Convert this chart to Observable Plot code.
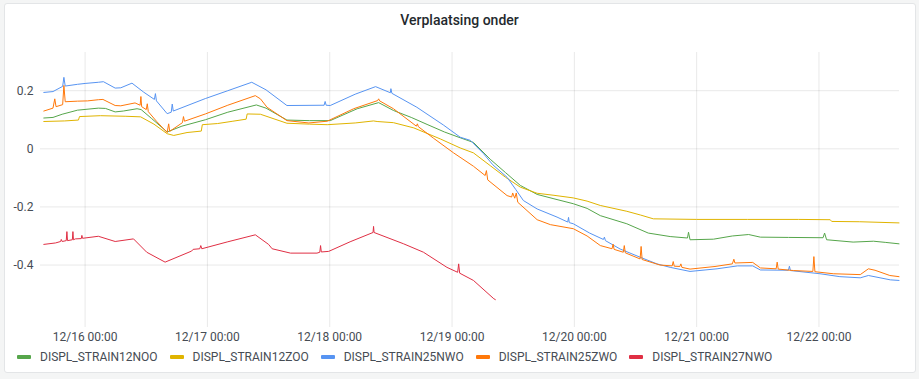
<!DOCTYPE html>
<html><head><meta charset="utf-8">
<script src="https://cdn.jsdelivr.net/npm/d3@7"></script>
<script src="https://cdn.jsdelivr.net/npm/@observablehq/plot@0.6"></script>
<style>
html,body{margin:0;padding:0;background:#f4f5f5;width:919px;height:379px;overflow:hidden;font-family:Roboto,"Noto Sans",sans-serif;}
#panel{position:absolute;left:4px;top:3px;width:910px;height:368px;background:#fff;border:1px solid #e3e5e7;border-radius:3px;}
#title{position:absolute;left:0;top:12px;width:919px;text-align:center;font-size:14px;font-weight:500;color:#24292e;}
#chart{position:absolute;left:0;top:0;}
#legend{position:absolute;left:17px;top:349px;display:flex;font-size:12px;color:#464c54;line-height:16px;}
.item{display:flex;align-items:center;margin-right:12px;}
.sw{width:14px;height:4px;border-radius:1px;margin-right:9px;}
</style></head>
<body>
<div id="panel"></div>
<div id="title">Verplaatsing onder</div>
<div id="chart"></div>
<div id="legend"></div>
<script>
// time = hours since 12/16 00:00
const seriesNames = ["DISPL_STRAIN12NOO", "DISPL_STRAIN12ZOO", "DISPL_STRAIN25NWO", "DISPL_STRAIN25ZWO", "DISPL_STRAIN27NWO"];
const seriesColors = ["#56A64B", "#E0B400", "#5794F2", "#FF780A", "#E02F44"];
const tickDays = ["2021-12-16", "2021-12-17", "2021-12-18", "2021-12-19", "2021-12-20", "2021-12-21", "2021-12-22"];
const yTicks = [-0.4, -0.2, 0, 0.2];

const strain12NOO = [[-8.1,0.106],[-6.3,0.108],[-4.5,0.119],[-1.5,0.133],[2.6,0.140],[4.0,0.139],[5.9,0.127],[7.5,0.130],[10.2,0.138],[11.0,0.135],[13.0,0.105],[16.1,0.058],[19.0,0.078],[23.6,0.100],[28.0,0.126],[33.6,0.151],[35.5,0.140],[39.6,0.099],[44.0,0.097],[48.1,0.097],[53.4,0.138],[57.6,0.159],[60.5,0.132],[64.0,0.108],[67.1,0.084],[70.5,0.058],[73.6,0.038],[76.2,0.022],[79.5,-0.036],[82.5,-0.082],[85.4,-0.126],[88.7,-0.157],[92.0,-0.172],[95.8,-0.189],[98.5,-0.205],[101.1,-0.230],[106.3,-0.258],[110.5,-0.290],[114.8,-0.302],[118.2,-0.307],[118.4,-0.287],[118.7,-0.313],[123.3,-0.311],[127.0,-0.300],[130.2,-0.295],[132.5,-0.304],[138.0,-0.305],[144.8,-0.306],[145.1,-0.290],[145.5,-0.313],[150.7,-0.321],[154.7,-0.318],[157.0,-0.322],[159.7,-0.327]];

const strain12ZOO = [[-8.1,0.094],[-4.0,0.096],[-1.3,0.099],[-1.1,0.111],[3.0,0.114],[8.0,0.112],[10.9,0.110],[13.5,0.085],[16.1,0.052],[17.4,0.046],[20.0,0.056],[22.8,0.061],[23.0,0.083],[26.0,0.087],[29.0,0.095],[31.6,0.102],[31.8,0.120],[34.4,0.119],[39.6,0.088],[44.0,0.085],[47.5,0.083],[53.0,0.089],[56.6,0.096],[57.3,0.094],[60.5,0.090],[64.5,0.072],[69.7,0.034],[73.6,0.003],[76.2,-0.014],[79.5,-0.058],[82.5,-0.098],[85.4,-0.132],[88.7,-0.153],[92.0,-0.160],[95.8,-0.169],[98.5,-0.180],[101.1,-0.195],[106.3,-0.215],[109.0,-0.228],[111.5,-0.241],[120.0,-0.243],[130.0,-0.243],[140.0,-0.243],[146.2,-0.244],[146.5,-0.250],[152.0,-0.251],[159.7,-0.255]];

const strain25NWO = [[-8.1,0.194],[-6.3,0.197],[-4.4,0.215],[-4.16,0.246],[-3.9,0.216],[-1.5,0.222],[0.0,0.225],[2.6,0.229],[3.6,0.231],[5.9,0.209],[7.0,0.210],[9.2,0.226],[11.5,0.195],[13.6,0.170],[13.8,0.190],[14.0,0.165],[16.1,0.121],[16.9,0.126],[17.1,0.154],[17.3,0.130],[23.6,0.173],[28.0,0.200],[32.7,0.229],[35.5,0.203],[39.6,0.149],[46.9,0.150],[47.1,0.163],[47.3,0.150],[48.1,0.149],[53.0,0.188],[57.0,0.214],[59.9,0.193],[60.0,0.207],[60.2,0.191],[65.1,0.143],[70.3,0.082],[73.6,0.040],[75.6,0.029],[78.2,-0.017],[80.0,-0.055],[82.8,-0.098],[84.5,-0.140],[86.0,-0.178],[88.7,-0.207],[92.6,-0.235],[94.7,-0.252],[94.86,-0.236],[95.0,-0.254],[95.8,-0.258],[99.0,-0.290],[101.7,-0.312],[101.9,-0.304],[102.1,-0.316],[105.0,-0.345],[108.9,-0.373],[112.2,-0.396],[114.8,-0.408],[118.7,-0.422],[124.0,-0.413],[128.0,-0.403],[131.0,-0.403],[132.5,-0.417],[138.0,-0.418],[138.2,-0.404],[138.4,-0.419],[144.2,-0.430],[148.1,-0.440],[152.1,-0.444],[153.7,-0.436],[158.0,-0.451],[159.7,-0.453]];

const strain25ZWO = [[-8.1,0.130],[-6.3,0.140],[-5.95,0.172],[-5.7,0.145],[-4.4,0.152],[-4.16,0.218],[-3.9,0.162],[-1.5,0.164],[0.5,0.165],[2.6,0.169],[3.5,0.170],[5.9,0.149],[7.0,0.148],[9.8,0.158],[10.8,0.150],[10.95,0.180],[11.1,0.145],[12.0,0.135],[12.2,0.155],[12.4,0.128],[14.0,0.095],[16.1,0.056],[16.4,0.086],[16.6,0.060],[19.1,0.090],[19.3,0.111],[19.5,0.095],[23.6,0.120],[28.0,0.150],[33.4,0.183],[34.4,0.172],[35.7,0.143],[39.6,0.097],[43.9,0.089],[47.5,0.095],[52.7,0.138],[57.4,0.166],[57.6,0.172],[57.8,0.165],[60.5,0.138],[65.0,0.078],[65.2,0.086],[65.4,0.076],[68.4,0.036],[72.3,-0.014],[76.2,-0.060],[78.5,-0.092],[78.75,-0.075],[79.0,-0.107],[82.8,-0.161],[83.7,-0.166],[83.9,-0.152],[84.3,-0.170],[84.6,-0.152],[84.9,-0.184],[88.7,-0.244],[91.3,-0.261],[95.8,-0.275],[98.5,-0.300],[101.1,-0.333],[103.4,-0.344],[103.6,-0.328],[103.8,-0.346],[105.6,-0.356],[105.8,-0.333],[106.0,-0.358],[108.9,-0.379],[109.1,-0.336],[109.3,-0.381],[112.8,-0.400],[115.2,-0.403],[115.4,-0.388],[115.6,-0.404],[116.7,-0.405],[116.9,-0.396],[117.1,-0.408],[118.7,-0.414],[123.6,-0.405],[127.0,-0.396],[127.3,-0.380],[127.5,-0.393],[131.0,-0.391],[132.5,-0.410],[135.6,-0.413],[135.8,-0.390],[136.0,-0.414],[139.0,-0.419],[142.8,-0.422],[143.0,-0.371],[143.2,-0.423],[146.8,-0.430],[152.1,-0.433],[153.7,-0.413],[155.0,-0.418],[157.9,-0.436],[159.7,-0.440]];

const strain27NWO = [[-8.1,-0.329],[-5.8,-0.324],[-4.8,-0.319],[-4.67,-0.312],[-4.5,-0.319],[-3.7,-0.316],[-3.57,-0.285],[-3.45,-0.316],[-2.5,-0.313],[-2.39,-0.285],[-2.28,-0.313],[-1.9,-0.310],[-0.75,-0.309],[-0.63,-0.298],[-0.5,-0.308],[2.6,-0.301],[5.9,-0.319],[9.5,-0.310],[12.1,-0.356],[15.7,-0.390],[20.9,-0.352],[21.2,-0.346],[22.5,-0.344],[22.7,-0.333],[22.9,-0.344],[28.0,-0.320],[33.4,-0.296],[36.0,-0.329],[36.7,-0.344],[40.3,-0.359],[45.5,-0.359],[46.05,-0.356],[46.2,-0.333],[46.35,-0.355],[47.8,-0.353],[52.0,-0.320],[56.5,-0.288],[56.6,-0.267],[56.7,-0.288],[62.5,-0.327],[66.4,-0.356],[71.0,-0.408],[73.1,-0.425],[73.3,-0.396],[73.5,-0.428],[76.2,-0.453],[80.2,-0.516],[80.5,-0.519]];

const seriesData = [strain12NOO, strain12ZOO, strain25NWO, strain25ZWO, strain27NWO];

const base = Date.UTC(2021, 11, 16);
const toDate = h => new Date(base + h * 3600e3);
const rows = seriesData.flatMap((pts, i) => pts.map(([h, v]) => ({t: toDate(h), v, name: seriesNames[i]})));
const xTicks = tickDays.map(d => new Date(d + "T00:00:00Z"));
const fmt = d3.utcFormat("%m/%d %H:%M");

const chart = Plot.plot({
  width: 919, height: 345,
  marginLeft: 40, marginRight: 20, marginTop: 52, marginBottom: 18,
  style: {fontFamily: "Roboto, 'Noto Sans', sans-serif", fontSize: "12px", color: "#464c54", background: "transparent", overflow: "visible"},
  x: {type: "utc", domain: [toDate(-8.75), toDate(159.8)]},
  y: {domain: [-0.615, 0.3315]},
  color: {domain: seriesNames, range: seriesColors},
  marks: [
    Plot.gridX(xTicks, {stroke: "#000", strokeOpacity: 0.09}),
    Plot.gridY(yTicks, {stroke: "#000", strokeOpacity: 0.09}),
    Plot.axisX(xTicks, {tickSize: 0, tickPadding: 5, tickFormat: fmt, label: null, fontSize: 12}),
    Plot.axisY(yTicks, {tickSize: 0, tickPadding: 7, tickFormat: d => String(d), label: null, fontSize: 12}),
    Plot.line(rows, {x: "t", y: "v", z: "name", stroke: "name", strokeWidth: 1})
  ]
});
document.getElementById("chart").appendChild(chart);

const legend = document.getElementById("legend");
seriesNames.forEach((n, i) => {
  const item = document.createElement("div");
  item.className = "item";
  const sw = document.createElement("span");
  sw.className = "sw";
  sw.style.background = seriesColors[i];
  const tx = document.createElement("span");
  tx.textContent = n;
  item.appendChild(sw); item.appendChild(tx);
  legend.appendChild(item);
});
</script>
</body></html>
